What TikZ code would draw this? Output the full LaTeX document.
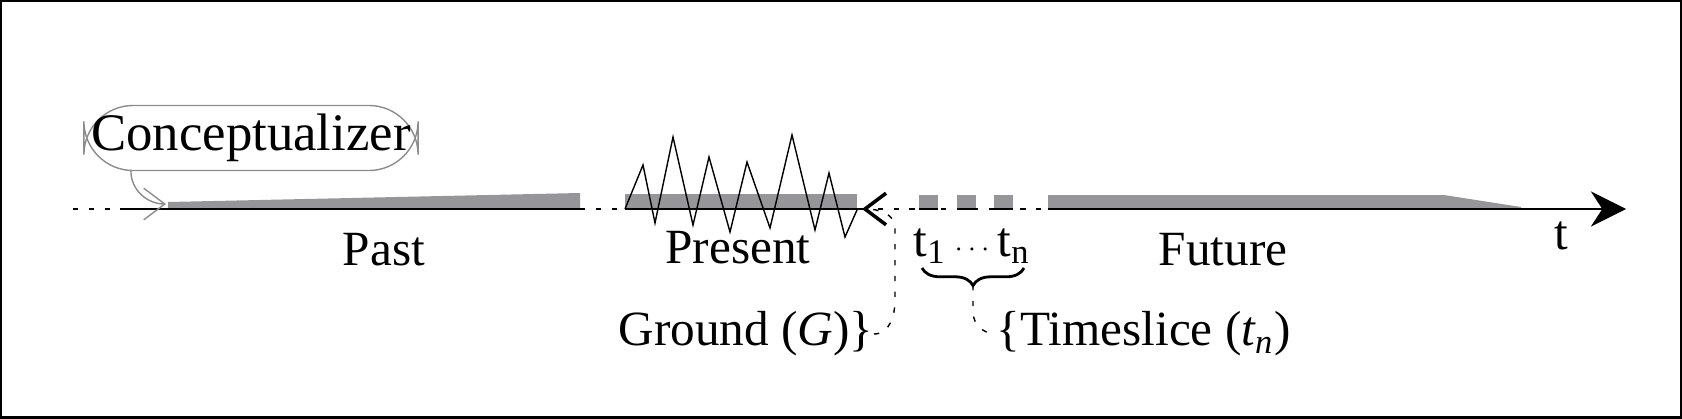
\documentclass[tikz,border=0pt]{standalone}
\usepackage{fontspec}
\setmainfont{Liberation Serif}
\usetikzlibrary{arrows.meta, positioning, decorations.pathreplacing}
\definecolor{band}{RGB}{150, 150, 154}
\definecolor{frame}{RGB}{140, 140, 140}

\begin{document}
\begin{tikzpicture}[
            x=0.01cm, y=-0.01cm,
            font=\fontsize{14}{16}\selectfont,
            axisdot/.style={dash pattern=on 1.5pt off 3pt},
            bandfill/.style={fill=band, draw=none},
            label/.style={inner sep=0pt, anchor=center}
        ]
            \useasboundingbox (0,0) rectangle (1682,418);
            \draw[black, line width=1pt] (0.5,0.5) rectangle (1681.5,417.5);

            % Bands on the time line
            \fill[bandfill] (168,209) -- (168,202) -- (580,193) -- (580,209) -- cycle;
            \fill[bandfill] (625,194) rectangle (857,209);
            \foreach \sx in {919,957,994}
                \fill[bandfill] (\sx,195) rectangle ++(19,14);
            \fill[bandfill] (1048,209) -- (1048,195) -- (1444,195) -- (1521,207) -- (1521,209) -- cycle;

            % Time line
            \coordinate (start) at (73,209);
            \coordinate (pastA) at (123,209);
            \coordinate (pastB) at (580,209);
            \coordinate (presA) at (625,209);
            \coordinate (now) at (862,209);
            \coordinate (futA) at (1048,209);
            \coordinate (tip) at (1626,209);
            \draw[axisdot] (start) -- (pastA);
            \draw (pastA) -- (pastB);
            \draw[axisdot] (pastB) -- (presA);
            \draw (presA) -- (now);
            \draw[axisdot] (now) -- (futA);
            \foreach \sx in {919,957,994}
                \draw (\sx,209) -- ++(19,0);
            \draw[-{Stealth[length=10pt, width=10pt]}] (futA) -- (tip);

            % Present signal
            \draw[line join=miter] (625,209) -- (643,165) -- (655,223) -- (673,137) -- (693,225)
                -- (709,157) -- (730,232) -- (747,162) -- (770,228) -- (792,135)
                -- (815,230) -- (829,173) -- (845,237) -- (857,210);

            % Labels
            \node[label] (past) at (384,250) {Past};
            \node[label] (present) at (738,248) {Present};
            \node[label] (future) at (1223,250) {Future};
            \node[label] (tlabel) at (1561,236) {t};
            \node[label] (slices) at (972,246)
                {t\textsubscript{1}\,{\footnotesize$\cdots$}\,t\textsubscript{n}};
            \draw[decorate, decoration={brace, mirror, amplitude=5pt}, thick]
                (922,268) -- (1024,268);
            \coordinate (bracetip) at (973,285);

            % Conceptualizer
            \node[draw=frame, rounded corners=14pt, minimum width=3.34cm,
                  minimum height=0.65cm, inner sep=2pt, font=\fontsize{15}{17}\selectfont]
                  (concept) at (251,138) {Conceptualizer};
            \draw[frame, -{Straight Barb[length=6pt, width=9pt]}]
                ([xshift=-1.2cm]concept.south) to[out=-90, in=180] (166,204);

            % Ground and Timeslice
            \node[label, anchor=east] (ground) at (874,334) {Ground (\textit{G})\}};
            \draw[axisdot, -{Straight Barb[length=6pt, width=9pt, line width=1pt]}]
                (ground.east) to[out=0, in=-90] (895,300) -- (895,228) to[out=90, in=0] (now);
            \node[label, anchor=west] (slice) at (996,334) {\{Timeslice (\textit{t\textsubscript{n}})};
            \draw[axisdot] (bracetip) -- (973,312) to[out=-90, in=180] (slice.west);
        \end{tikzpicture}
\end{document}
